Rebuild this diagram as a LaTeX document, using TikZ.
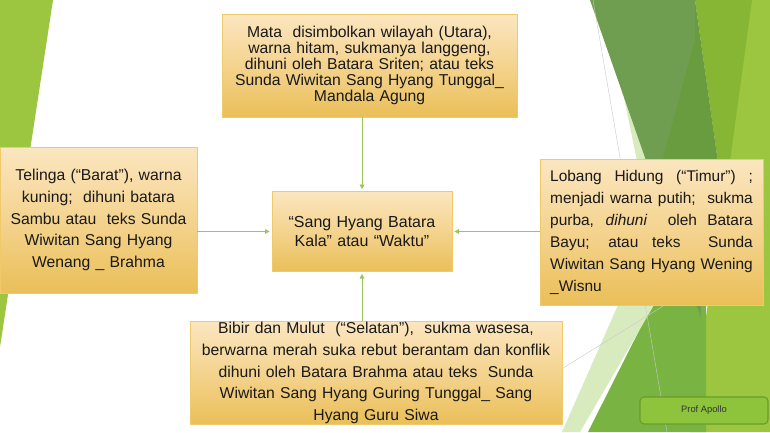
\documentclass[tikz,border=0pt]{standalone}
\usepackage{fontspec}
\setmainfont{Liberation Sans}
\usetikzlibrary{arrows.meta}
\definecolor{hijauLime}{HTML}{9CC63F}
\definecolor{hijauTerang}{HTML}{87B534}
\definecolor{hijauTua}{HTML}{6F9E51}
\definecolor{hijauGelap}{HTML}{699B3F}
\definecolor{hijauSedang}{HTML}{79B443}
\definecolor{hijauPucat}{HTML}{D7EBBE}
\definecolor{garisAbu}{HTML}{C9C9C9}
\definecolor{kotakAtas}{HTML}{FBE6C0}
\definecolor{kotakTengah}{HTML}{F4D38E}
\definecolor{kotakBawah}{HTML}{EABF58}
\definecolor{kotakGaris}{HTML}{F0CA6A}
\definecolor{panahHijau}{HTML}{9CC55E}
\definecolor{tombolIsi}{HTML}{8DC43B}
\definecolor{tombolGaris}{HTML}{6A9C2C}
\tikzset{
  kotak/.style={draw=kotakGaris, line width=0.5pt, top color=kotakAtas, bottom color=kotakBawah, middle color=kotakTengah, inner sep=0pt, align=center, text=black!90},
  panah/.style={draw=panahHijau, line width=0.6pt, -{Triangle[length=3.5pt,width=3.5pt]}, shorten >=1.5pt},
  tombol/.style={draw=tombolGaris, line width=0.8pt, fill=tombolIsi, rounded corners=3pt, text=black!80, font=\fontsize{7}{8}\selectfont},
}
\begin{document}
\begin{tikzpicture}[x=0.75pt,y=0.75pt,yscale=-1,xscale=1]
\useasboundingbox (0,0) rectangle (770,432);
\fill[white] (0,0) rectangle (770,432);

%Shape: Polygon (left strip)
\fill[hijauLime] (0,0) -- (53,0) -- (0,347) -- cycle;
%Shape: Polygon (right facets)
\fill[hijauLime] (750,0) -- (770,0) -- (770,432) -- (690,432) -- cycle;
\fill[hijauTerang] (695,0) -- (752,0) -- (724,205) -- cycle;
\fill[hijauPucat] (622,88) -- (662,200) -- (645,200) -- cycle;
\fill[hijauSedang] (652,305) -- (706,305) -- (706,432) -- (588,432) -- cycle;
\fill[hijauPucat] (618,305) -- (654,305) -- (580,432) -- (562,432) -- cycle;
\fill[hijauTua] (590,0) -- (695,0) -- (701,318) -- cycle;
\fill[hijauGelap] (695,0) -- (718,162) -- (662,162) -- (695,40) -- cycle;
%Straight Lines
\draw[garisAbu, line width=0.3pt] (593,0) -- (667,432);
\draw[garisAbu, line width=0.3pt] (560,370) -- (668,303);

% Text Node
\node (utara) at (369.5,65.5) [kotak, minimum width=221.25pt, minimum height=77.25pt, text width=215pt, font=\fontsize{11.8}{11.9}\selectfont]
  {Mata\ \ disimbolkan wilayah (Utara),\\ warna hitam, sukmanya langgeng,\\ dihuni oleh Batara Sriten; atau teks\\ Sunda Wiwitan Sang Hyang Tunggal\_\\ Mandala Agung};
% Text Node
\node (barat) at (98.5,220) [kotak, minimum width=147.75pt, minimum height=109.5pt, text width=140pt, font=\fontsize{11.8}{16.2}\selectfont]
  {Telinga (“Barat”), warna\\ kuning;\ \ dihuni batara\\ Sambu atau\ \ teks Sunda\\ Wiwitan Sang Hyang\\ Wenang \_ Brahma};
% Text Node
\node (timur) at (651.5,232) [kotak, minimum width=167.25pt, minimum height=109.5pt, text width=152pt, align=justify, font=\fontsize{11.6}{16.5}\selectfont]
  {\tolerance=10000\relax\leftskip=4pt Lobang Hidung (“Timur”) ;\linebreak menjadi warna putih;\ \ sukma\linebreak purba, \textit{dihuni}\ \ oleh Batara\linebreak Bayu; atau teks\ \ Sunda\linebreak Wiwitan Sang Hyang Wening\linebreak \_Wisnu};
% Text Node
\node (selatan) at (376,373) [kotak, minimum width=279pt, minimum height=77.25pt, text width=272pt, font=\fontsize{11.8}{16.3}\selectfont]
  {Bibir dan Mulut\ \ (“Selatan”),\ \ sukma wasesa,\\ berwarna merah suka rebut berantam dan konflik\\ dihuni oleh Batara Brahma atau teks\ \ Sunda\\ Wiwitan Sang Hyang Guring Tunggal\_ Sang\\ Hyang Guru Siwa};
% Text Node
\node (pusat) at (362,231.5) [kotak, minimum width=135pt, minimum height=60pt, text width=128pt, font=\fontsize{12}{13.7}\selectfont]
  {“Sang Hyang Batara\\ Kala” atau “Waktu”};
% Text Node
\node (prof) at (704,410.5) [tombol, minimum width=96pt, minimum height=20.25pt] {Prof Apollo};

%Straight Lines
\draw[panah] (utara.south -| pusat.north) -- (pusat.north);
\draw[panah] (selatan.north -| pusat.south) -- (pusat.south);
\draw[panah] (barat.east |- pusat.west) -- (pusat.west);
\draw[panah] (timur.west |- pusat.east) -- (pusat.east);

\end{tikzpicture}
\end{document}
